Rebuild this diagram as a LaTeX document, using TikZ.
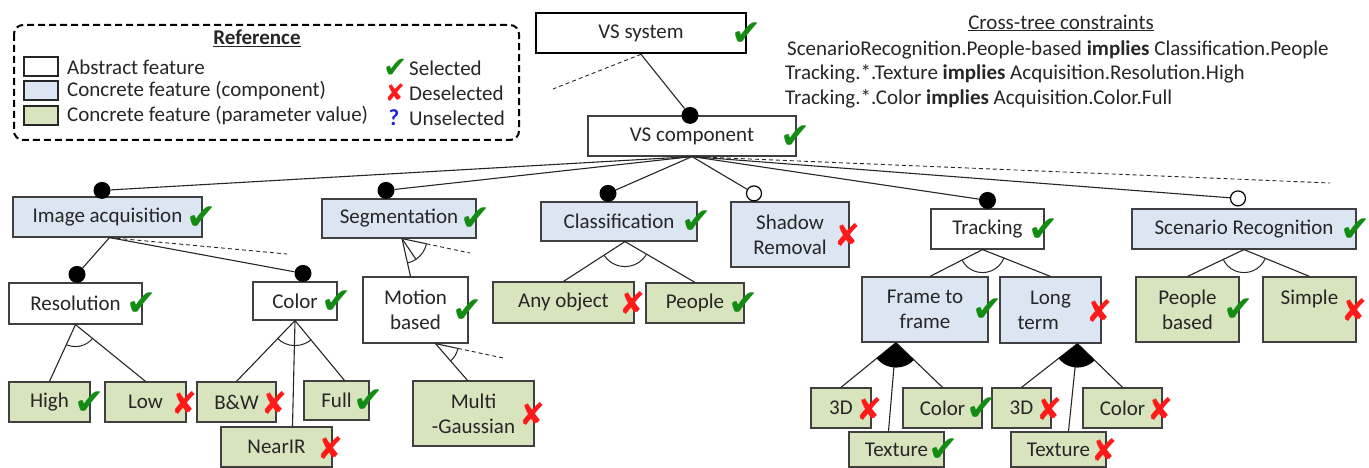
\documentclass[tikz,border=0pt]{standalone}
\usepackage{fontspec}
\setmainfont{Carlito}
\newfontfamily\symfont{DejaVu Sans}
\usetikzlibrary{calc}

\definecolor{compblue}{HTML}{DCE6F2}
\definecolor{parmgreen}{HTML}{D7E4BD}
\definecolor{boxgray}{HTML}{404040}
\definecolor{okgreen}{HTML}{148C14}
\definecolor{kored}{HTML}{FF1A1A}
\definecolor{askblue}{HTML}{1F1FE0}

\tikzset{
  feat/.style={draw=boxgray, line width=1.2pt, inner sep=0pt, align=center, text=black!85, font=\fontsize{21}{25}\selectfont},
  abstract/.style={feat, fill=white},
  compo/.style={feat, fill=compblue},
  param/.style={feat, fill=parmgreen},
  okmark/.style={inner sep=0pt, text=okgreen, font=\symfont\fontsize{36}{36}\selectfont},
  komark/.style={inner sep=0pt, text=kored, font=\symfont\fontsize{31}{31}\selectfont},
  ok/.style={label={[okmark, anchor=center, xshift=-1pt, yshift=-1pt]east:✔}},
  ko/.style={label={[komark, anchor=center, xshift=-2pt, yshift=-1pt]east:✘}},
  mand/.style={circle, fill=black, inner sep=0pt, minimum size=17pt},
  opt/.style={circle, draw=black, fill=white, line width=1.2pt, inner sep=0pt, minimum size=15pt},
  link/.style={draw=black!85, line width=1.1pt},
  hiddenlink/.style={link, line width=0.9pt, dash pattern=on 4pt off 3pt},
  legtext/.style={anchor=west, inner sep=0pt, text=black!85, font=\fontsize{21}{25}\selectfont},
  swatch/.style={draw=black!85, line width=2pt, minimum width=34pt, minimum height=19pt, inner sep=0pt},
}

% arc of an alternative group, cut to the wedge of its outer edges
\newcommand{\altarc}[4]{%
  \begin{scope}
    \clip (#1) -- (#2) -- (#3) -- cycle;
    \draw[line width=1pt, black!85] (#1) circle[radius=#4];
  \end{scope}}
% filled wedge of an or group
\newcommand{\orarc}[4]{%
  \begin{scope}
    \clip (#1) -- (#2) -- (#3) -- cycle;
    \fill (#1) circle[radius=#4];
  \end{scope}}

\begin{document}
\begin{tikzpicture}[x=1pt, y=-1pt]
    \useasboundingbox (0,0) rectangle (1369,468);

    % Legend
    \draw[line width=2pt, rounded corners=9pt, dash pattern=on 7pt off 4pt] (14,25) rectangle (519,140);
    \node[legtext, anchor=center, font=\fontsize{21}{25}\selectfont\bfseries] (legtitle) at (257,38) {\underline{Reference}};
    \node[swatch, fill=white] (swabs) at (41,67) {};
    \node[swatch, fill=compblue] (swcomp) at (41,91) {};
    \node[swatch, fill=parmgreen] (swparm) at (41,116) {};
    \node[legtext] (txabs) at (67,67) {Abstract feature};
    \node[legtext] (txcomp) at (67,91) {Concrete feature (component)};
    \node[legtext] (txparm) at (67,116) {Concrete feature (parameter value)};
    \node[okmark, font=\symfont\fontsize{29}{29}\selectfont] (mksel) at (396,68) {✔};
    \node[komark, font=\symfont\fontsize{24}{24}\selectfont] (mkdes) at (395,93) {✘};
    \node[legtext, anchor=center, text=askblue, font=\fontsize{23}{25}\selectfont\bfseries] (mkuns) at (394,118) {?};
    \node[legtext] (txsel) at (409,68) {Selected};
    \node[legtext] (txdes) at (409,93) {Deselected};
    \node[legtext] (txuns) at (409,118) {Unselected};

    % Cross-tree constraints
    \node[legtext, anchor=center] (contitle) at (1061,23) {\underline{Cross-tree constraints}};
    \node[legtext] (con1) at (787,50) {ScenarioRecognition.People-based \textbf{implies} Classification.People};
    \node[legtext] (con2) at (785,74) {Tracking.*.Texture \textbf{implies} Acquisition.Resolution.High};
    \node[legtext] (con3) at (785,99) {Tracking.*.Color \textbf{implies} Acquisition.Color.Full};

    % Features, top levels
    \node[abstract, ok, line width=2.6pt, draw=black, minimum width=210pt, minimum height=40pt] (sys) at (641,33) {VS system};
    \node[abstract, ok, minimum width=208pt, minimum height=40pt] (vscomp) at (692,136) {VS component};
    \node[compo, ok, minimum width=189pt, minimum height=40pt] (imgacq) at (107.5,217) {Image acquisition};
    \node[compo, ok, minimum width=154pt, minimum height=39pt] (seg) at (399,218.5) {Segmentation};
    \node[compo, ok, minimum width=156pt, minimum height=39pt] (classif) at (619,221.5) {Classification};
    \node[compo, ko, minimum width=118pt, minimum height=65pt] (shadow) at (790,234.5) {Shadow\\Removal};
    \node[abstract, ok, minimum width=113pt, minimum height=40pt] (tracking) at (987.5,229) {Tracking};
    \node[compo, ok, minimum width=224pt, minimum height=40pt] (scenario) at (1244,229) {Scenario Recognition};

    % Features, second level
    \node[abstract, ok, minimum width=133pt, minimum height=41pt] (resol) at (75.5,303.5) {Resolution};
    \node[abstract, ok, minimum width=84pt, minimum height=38pt] (color) at (295,301) {Color};
    \node[abstract, ok, minimum width=105pt, minimum height=66pt] (motion) at (415.5,310) {Motion\\based};
    \node[param, ko, minimum width=141pt, minimum height=41pt] (anyobj) at (563.5,302.5) {Any object};
    \node[param, ok, minimum width=98pt, minimum height=40pt] (people) at (695,303) {People};
    \node[compo, ko, minimum width=101pt, minimum height=66pt] (longterm) at (1050.5,310) {Long\\term\phantom{ter}};
    \node[compo, ok, minimum width=126pt, minimum height=65pt] (frame) at (925,309.5) {Frame to\\frame};
    \node[param, ok, minimum width=103pt, minimum height=65pt] (pbased) at (1187.5,309.5) {People\\based};
    \node[param, ko, minimum width=93pt, minimum height=65pt] (simple) at (1309.5,309.5) {Simple\\\phantom{b}};

    % Features, leaves
    \node[param, ok, minimum width=81pt, minimum height=40pt] (high) at (49.5,402) {High};
    \node[param, ko, minimum width=81pt, minimum height=40pt] (low) at (145.5,402) {Low};
    \node[param, ko, minimum width=79pt, minimum height=40pt] (bw) at (236.5,402) {B\&W};
    \node[param, ok, minimum width=65pt, minimum height=39pt] (full) at (336.5,400.5) {Full};
    \node[param, ko, minimum width=111pt, minimum height=40pt] (nearir) at (276.5,447) {NearIR};
    \node[param, ko, minimum width=121pt, minimum height=65pt] (multig) at (473.5,413.5) {Multi\\-Gaussian};
    \node[param, ko, minimum width=60pt, minimum height=40pt] (tdA) at (841,408) {3D};
    \node[param, ko, minimum width=59pt, minimum height=40pt] (tdB) at (1021.5,408) {3D};
    \node[param, ok, minimum width=79pt, minimum height=40pt] (colA) at (942.5,408) {Color};
    \node[param, ko, minimum width=79pt, minimum height=40pt] (colB) at (1122.5,408) {Color};
    \node[param, ok, minimum width=95pt, minimum height=35pt] (texA) at (896.5,449.5) {Texture};
    \node[param, ko, minimum width=95pt, minimum height=35pt] (texB) at (1058.5,449.5) {Texture};

    % Mandatory and optional dots
    \node[mand] (d-vs) at ([xshift=-2pt]vscomp.north) {};
    \node[mand] (d-img) at ([xshift=-5.5pt, yshift=6pt]imgacq.north) {};
    \node[mand] (d-seg) at ([xshift=-13pt, yshift=8pt]seg.north) {};
    \node[mand] (d-cls) at ([xshift=-11pt, yshift=8pt]classif.north) {};
    \node[opt] (d-sha) at ([xshift=-36pt, yshift=8pt]shadow.north) {};
    \node[mand] (d-trk) at ([yshift=8pt]tracking.north) {};
    \node[opt] (d-scn) at ([xshift=-6pt, yshift=10pt]scenario.north) {};
    \node[mand] (d-res) at ([xshift=1.5pt, yshift=8pt]resol.north) {};
    \node[mand] (d-col) at ([xshift=8pt, yshift=8pt]color.north) {};

    % Edge ends
    \coordinate (sysmore) at (553,89);
    \coordinate (vsmore) at (1330,183);
    \coordinate (imgmore) at (287,254);
    \coordinate (segmore) at (470,253);
    \coordinate (motmore) at (503,358);
    \coordinate (img-b) at ([xshift=2pt]imgacq.south);
    \coordinate (seg-b) at ([xshift=3pt]seg.south);
    \coordinate (mot-b) at ([xshift=20pt]motion.south);
    \coordinate (cls-b) at ([xshift=6pt]classif.south);
    \coordinate (trk-b) at ([xshift=-5pt]tracking.south);
    \coordinate (frm-b) at ([xshift=-29pt]frame.south);
    \coordinate (lng-b) at ([xshift=27pt]longterm.south);
    \coordinate (mot-t) at ([xshift=-5pt]motion.north);
    \coordinate (mul-t) at ([xshift=-6pt]multig.north);
    \coordinate (full-t) at ([xshift=8pt]full.north);
    \coordinate (nir-t) at ([xshift=16pt]nearir.north);
    \coordinate (frm-t) at ([xshift=5pt]frame.north);
    \coordinate (texA-t) at ([xshift=-8pt]texA.north);
    \coordinate (texB-t) at ([xshift=10pt]texB.north);

    % VS system and VS component
    \draw[link] (sys.south) -- (d-vs);
    \draw[hiddenlink] (sys.south) -- (sysmore);
    \draw[link] (vscomp.south) -- (d-img);
    \draw[link] (vscomp.south) -- (d-seg);
    \draw[link] (vscomp.south) -- (d-cls);
    \draw[link] (vscomp.south) -- (d-sha);
    \draw[link] (vscomp.south) -- (d-trk);
    \draw[link] (vscomp.south) -- (d-scn);
    \draw[hiddenlink] (vscomp.south) -- (vsmore);

    % Image acquisition
    \draw[link] (img-b) -- (d-res);
    \draw[link] (img-b) -- (d-col);
    \draw[hiddenlink] (img-b) -- (imgmore);
    \draw[link] (resol.south) -- (high.north);
    \draw[link] (resol.south) -- (low.north);
    \altarc{resol.south}{high.north}{low.north}{22pt}
    \draw[link] (color.south) -- (bw.north);
    \draw[link] (color.south) -- (nir-t);
    \draw[link] (color.south) -- (full-t);
    \altarc{color.south}{bw.north}{full-t}{25pt}

    % Segmentation
    \draw[link] (seg-b) -- (mot-t);
    \draw[link] (seg-b) -- ++(56:25);
    \draw[link] (seg-b) -- ($(seg-b)!25pt!(segmore)$);
    \draw[hiddenlink] ($(seg-b)!25pt!(segmore)$) -- (segmore);
    \altarc{seg-b}{mot-t}{segmore}{25pt}
    \draw[link] (mot-b) -- (mul-t);
    \draw[link] (mot-b) -- ($(mot-b)!23pt!(motmore)$);
    \draw[hiddenlink] ($(mot-b)!23pt!(motmore)$) -- (motmore);
    \altarc{mot-b}{mul-t}{motmore}{23pt}

    % Classification
    \draw[link] (cls-b) -- (anyobj.north);
    \draw[link] (cls-b) -- (people.north);
    \altarc{cls-b}{anyobj.north}{people.north}{25pt}

    % Tracking
    \draw[link] (trk-b) -- (frm-t);
    \draw[link] (trk-b) -- (longterm.north);
    \altarc{trk-b}{frm-t}{longterm.north}{23pt}
    \draw[link] (frm-b) -- (tdA.north);
    \draw[link] (frm-b) -- (texA-t);
    \draw[link] (frm-b) -- (colA.north);
    \orarc{frm-b}{tdA.north}{colA.north}{25pt}
    \draw[link] (lng-b) -- (tdB.north);
    \draw[link] (lng-b) -- (texB-t);
    \draw[link] (lng-b) -- (colB.north);
    \orarc{lng-b}{tdB.north}{colB.north}{24pt}

    % Scenario recognition
    \draw[link] (scenario.south) -- (pbased.north);
    \draw[link] (scenario.south) -- (simple.north);
    \altarc{scenario.south}{pbased.north}{simple.north}{23pt}

\end{tikzpicture}
\end{document}
